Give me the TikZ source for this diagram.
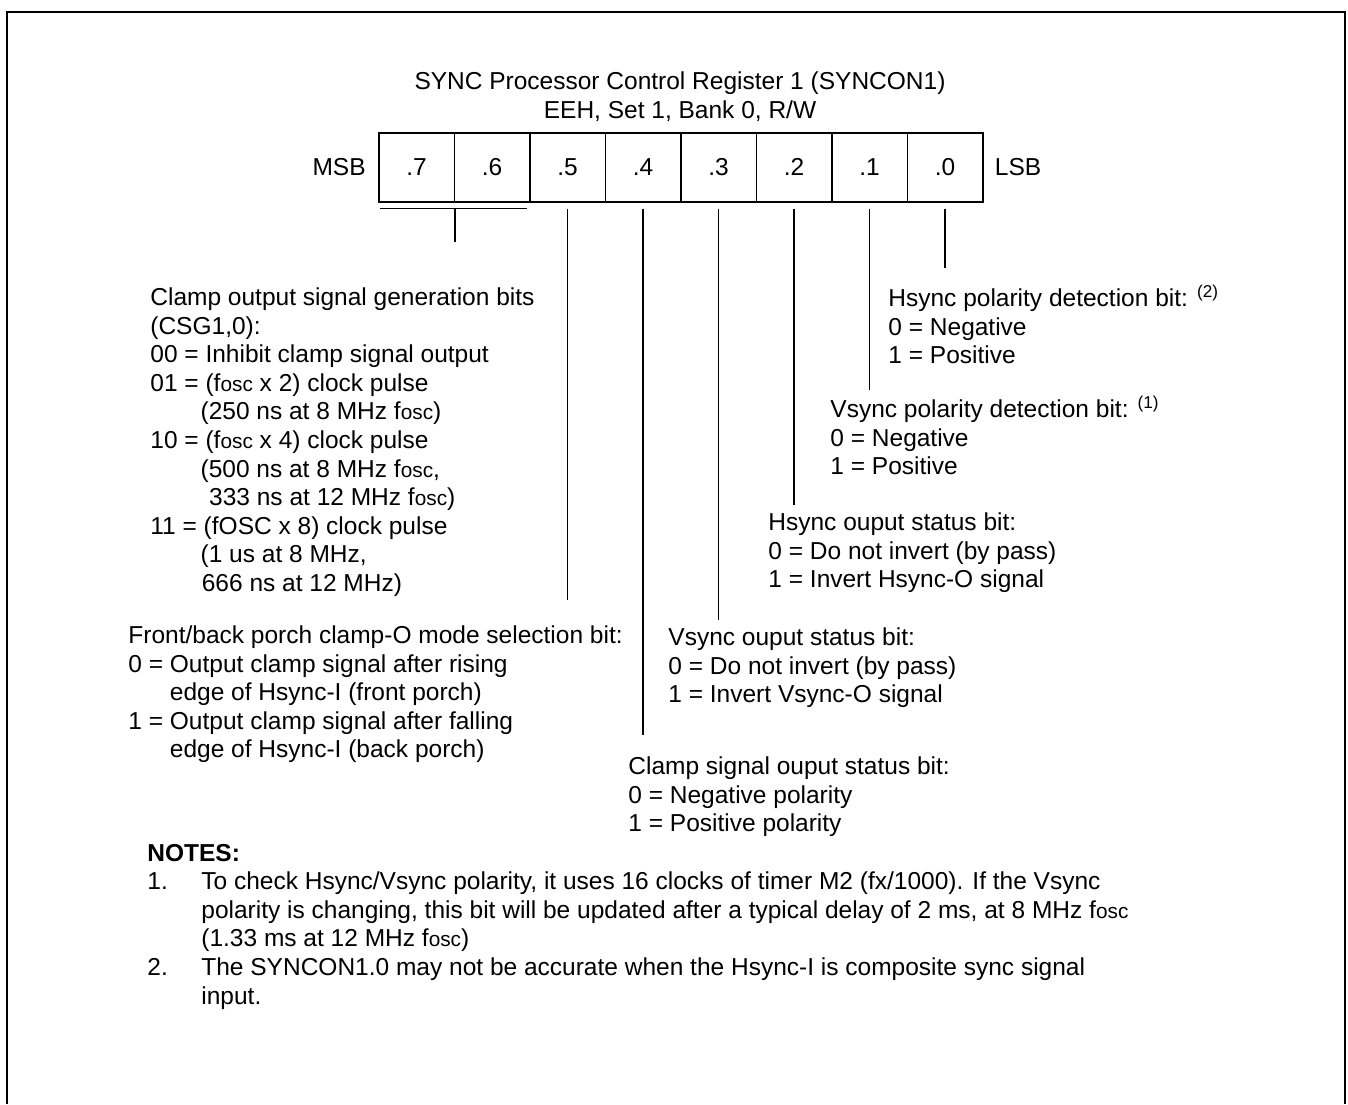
\documentclass[tikz,border=0pt]{standalone}
\usepackage{fontspec}
\setmainfont{Liberation Sans}
\usepackage{tikz}
\usetikzlibrary{
  calc,
  positioning,
}

\newcommand{\bodyfont}{\fontsize{12.25pt}{14.3pt}\selectfont}
\newcommand{\fosc}{f{\fontsize{10.4pt}{12pt}\selectfont osc}}

\begin{document}
\begin{tikzpicture}[
  x=0.5pt, y=-0.5pt,
  font=\bodyfont,
  frame/.style={line width=1pt},
  cell/.style={draw, line width=0.75pt, minimum width=37.75pt,
    minimum height=34.5pt, inner sep=0pt, anchor=north west},
  lead/.style={line width=0.75pt},
  desc/.style={anchor=north west, inner sep=0pt, align=left},
]

\useasboundingbox (0,0) rectangle (1348,1104);
\draw[frame] (7,1104) -- (7,12) -- (1345,12) -- (1345,1104);

\node[anchor=north, inner sep=0pt, align=center] (title) at (680,69)
  {\strut SYNC Processor Control Register 1 (SYNCON1)\\
   EEH, Set 1, Bank 0, R/W};

%% register cells
\foreach \b [count=\i from 0] in {7,6,5,4,3,2,1,0}{
  \node[cell] (b\b) at (378+\i*75.5,132) {.\b};
}
\node[anchor=east, inner sep=0pt] (msb) at ([xshift=-6pt]b7.west) {MSB};
\node[anchor=west, inner sep=0pt] (lsb) at ([xshift=5.5pt]b0.east) {LSB};

%% descriptions
\node[desc] (csg) at (150,285)
  {\strut Clamp output signal generation bits\\
   (CSG1,0):\\
   00 = Inhibit clamp signal output\\
   01 = (\fosc{} x 2) clock pulse\\
   \hspace*{2.05em}(250 ns at 8 MHz \fosc)\\
   10 = (\fosc{} x 4) clock pulse\\
   \hspace*{2.05em}(500 ns at 8 MHz \fosc,\\
   \hspace*{2.4em}333 ns at 12 MHz \fosc)\\
   11 = (fOSC x 8) clock pulse\\
   \hspace*{2.05em}(1 us at 8 MHz,\\
   \hspace*{2.1em}666 ns at 12 MHz)};

\node[desc] (fb) at (128,623)
  {\strut Front/back porch clamp-O mode selection bit:\\
   0 = Output clamp signal after rising\\
   \hphantom{0 = }edge of Hsync-I (front porch)\\
   1 = Output clamp signal after falling\\
   \hphantom{1 = }edge of Hsync-I (back porch)};

\node[desc] (cso) at (628,754)
  {\strut Clamp signal ouput status bit:\\
   0 = Negative polarity\\
   1 = Positive polarity};

\node[desc] (vso) at (668,625)
  {\strut Vsync ouput status bit:\\
   0 = Do not invert (by pass)\\
   1 = Invert Vsync-O signal};

\node[desc] (hso) at (768,510)
  {\strut Hsync ouput status bit:\\
   0 = Do not invert (by pass)\\
   1 = Invert Hsync-O signal};

\node[desc] (vpd) at (830,396)
  {\strut Vsync polarity detection bit: \textsuperscript{(1)}\\
   0 = Negative\\
   1 = Positive};

\node[desc] (hpd) at (888,285)
  {\strut Hsync polarity detection bit: \textsuperscript{(2)}\\
   0 = Negative\\
   1 = Positive};

%% leads from the bits
\draw[lead] ([xshift=1pt,yshift=-3pt]b7.south west)
  -- ([xshift=-2pt,yshift=-3pt]b6.south east);
\draw[lead] ([yshift=-3pt]b7.south east) -- ++(0,33);
\draw[lead] ([yshift=-3pt]b5.south) -- ($(b5.south |- fb.north)+(0,-23)$);
\draw[lead] ([yshift=-3pt]b4.south) -- ($(b4.south |- cso.north)+(0,-19)$);
\draw[lead] ([yshift=-3pt]b3.south) -- ($(b3.south |- vso.north)+(0,-5)$);
\draw[lead] ([yshift=-3pt]b2.south) -- ($(b2.south |- hso.north)+(0,-5)$);
\draw[lead] ([yshift=-3pt]b1.south) -- ($(b1.south |- vpd.north)+(0,-6)$);
\draw[lead] ([yshift=-3pt]b0.south) -- ($(b0.south |- hpd.north)+(0,-17)$);

%% notes
\node[desc] (notes) at (147,841) {\strut\textbf{NOTES:}};
\node[desc] (n1) at (147,869) {\strut 1.};
\node[desc] (n1txt) at (201,869)
  {\strut To check Hsync/Vsync polarity, it uses 16 clocks of timer M2 (fx/1000). If the Vsync\\
   polarity is changing, this bit will be updated after a typical delay of 2 ms, at 8 MHz \fosc\\
   (1.33 ms at 12 MHz \fosc)};
\node[desc] (n2) at (147,955) {\strut 2.};
\node[desc] (n2txt) at (201,955)
  {\strut The SYNCON1.0 may not be accurate when the Hsync-I is composite sync signal\\
   input.};

\end{tikzpicture}
\end{document}
